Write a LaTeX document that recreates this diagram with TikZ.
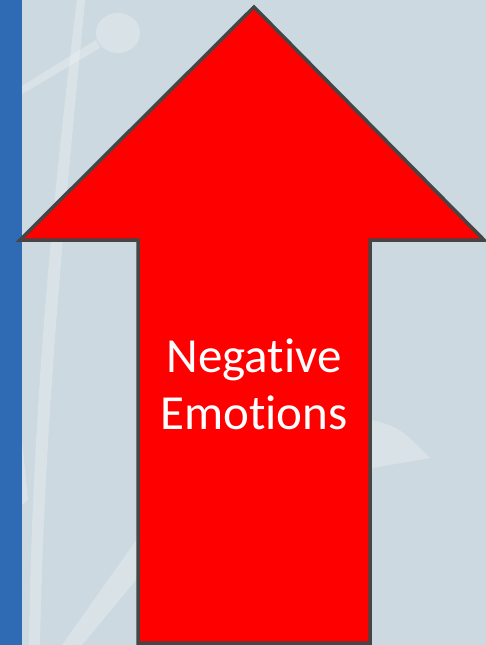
\documentclass[tikz,border=0pt]{standalone}
\usepackage{fontspec}
\setmainfont{Carlito}[Ligatures=CommonOff]
\usepackage{tikz}
\usetikzlibrary{positioning}
\definecolor{slidebg}{RGB}{205,217,224}
\definecolor{slideblue}{RGB}{46,107,180}
\definecolor{arrowred}{RGB}{255,0,0}
\definecolor{edgegray}{RGB}{69,69,69}

\begin{document}
\begin{tikzpicture}[x=1pt, y=-1pt, every node/.style={font=\fontsize{49}{57}\selectfont}]
  % Background
  \useasboundingbox (0,0) rectangle (486,645);
  \fill[slidebg] (0,0) rectangle (486,645);
  \fill[slideblue] (0,0) rectangle (22,645);
  % Faint plant pattern
  \fill[white, opacity=0.25] (77,0) -- (85,0) .. controls (66,200) and (44,420) .. (40,645)
    -- (29,645) .. controls (32,420) and (52,200) .. cycle;
  \fill[white, opacity=0.25] (22,86) -- (96,40) -- (100,48) -- (22,94) -- cycle;
  \fill[white, opacity=0.25] (118,33) ellipse (22 and 20);
  \fill[white, opacity=0.25] (22,440) -- (28,500) -- (22,505) -- cycle;
  \fill[white, opacity=0.25] (140,535) -- (140,575) -- (82,645) -- (62,645) -- cycle;
  \fill[white, opacity=0.25] (372,420) .. controls (400,428) .. (430,458) -- (372,468) -- cycle;
  % Arrow
  \draw[edgegray, line width=3.5pt, line join=miter, fill=arrowred]
    (254,7) -- (484,240) -- (370,240) -- (370,643) -- (138,643) -- (138,240)
    -- (20,240) -- cycle;
  \node[white, align=center] (label) at (254,384) {Negative\\Emotions};
\end{tikzpicture}
\end{document}
